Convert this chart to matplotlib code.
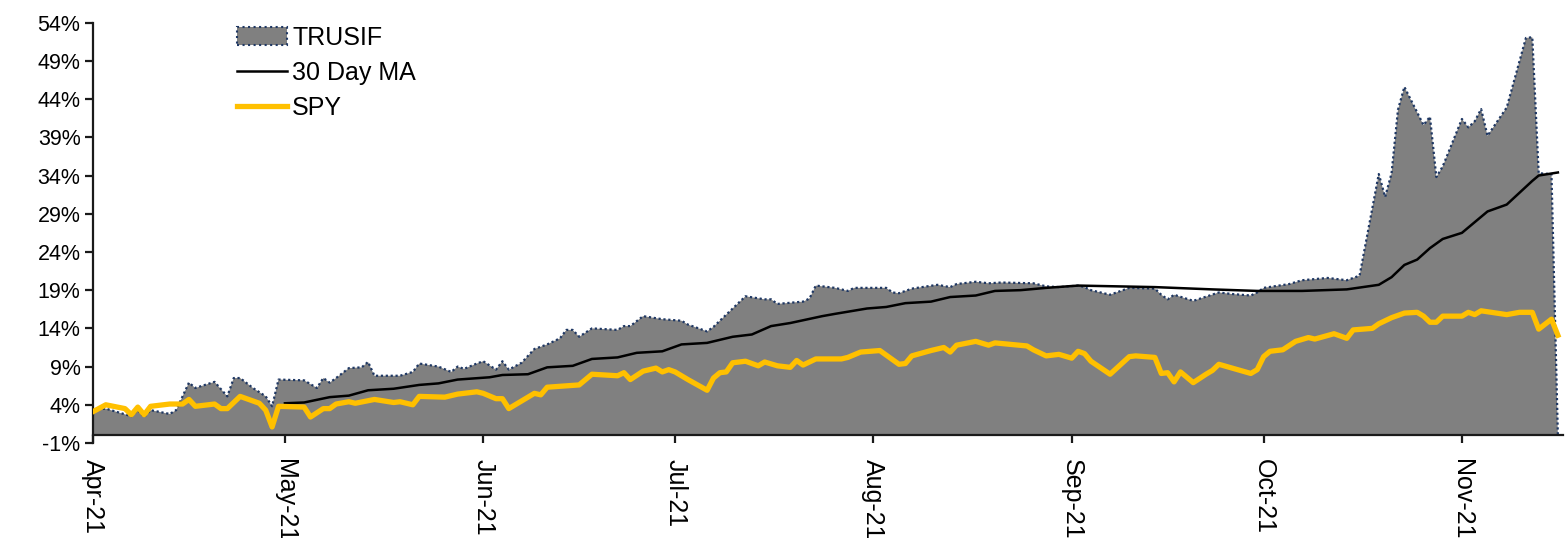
import matplotlib
matplotlib.use("Agg")
import matplotlib.pyplot as plt
import matplotlib.dates as mdates
from matplotlib.patches import Patch
from matplotlib.lines import Line2D
import pandas as pd
import numpy as np

plt.rcParams['font.family'] = ['Liberation Sans', 'DejaVu Sans']

# ---- data (dates as MM-DD in 2021, values in %) ----
trusif_dates = ["04-01","04-03","04-05","04-07","04-08","04-09","04-10","04-13","04-14","04-16",
                "04-17","04-20","04-22","04-23","04-24","04-26","04-28","04-29","04-30","05-04",
                "05-06","05-07","05-08","05-09","05-11","05-13","05-14","05-15","05-19","05-21",
                "05-22","05-25","05-27","05-28","05-29","05-31","06-01","06-03","06-04","06-05",
                "06-07","06-09","06-11","06-13","06-14","06-15","06-16","06-18","06-22","06-23",
                "06-24","06-26","06-29","07-02","07-03","07-06","07-07","07-10","07-12","07-15",
                "07-16","07-17","07-21","07-22","07-23","07-26","07-28","07-29","08-03","08-04",
                "08-05","08-07","08-11","08-13","08-14","08-17","08-19","08-21","08-26","08-28",
                "08-30","09-02","09-03","09-04","09-07","09-10","09-14","09-15","09-16","09-17",
                "09-20","09-24","09-26","09-29","09-30","10-01","10-05","10-07","10-11","10-14",
                "10-16","10-19","10-20","10-21","10-22","10-23","10-26","10-27","10-28","10-29",
                "11-01","11-02","11-03","11-04","11-05","11-08","11-11","11-12","11-13","11-15",
                "11-16"]
trusif_values = [3.3,3.5,3.0,2.5,3.3,2.4,3.3,2.8,3.3,6.9,
                 6.2,7.0,5.1,7.5,7.5,6.2,5.1,3.8,7.3,7.2,
                 6.2,7.5,6.9,7.5,8.8,8.9,9.6,7.8,7.8,8.3,
                 9.4,9.0,8.3,9.0,8.7,9.4,9.7,8.6,9.7,8.6,
                 9.5,11.3,11.9,12.7,13.8,13.8,12.9,14.0,13.8,14.3,
                 14.3,15.6,15.2,15.0,14.5,13.6,14.2,16.6,18.2,17.8,
                 17.8,17.2,17.5,17.9,19.6,19.3,18.9,19.3,19.3,18.7,
                 18.6,19.2,19.7,19.4,19.8,20.1,19.9,20.0,19.9,19.5,
                 19.4,19.6,19.4,19.0,18.4,19.3,19.2,18.4,17.8,18.4,
                 17.6,18.7,18.5,18.3,18.7,19.3,19.8,20.3,20.6,20.3,
                 20.9,34.2,31.2,34.3,42.6,45.6,40.6,41.7,33.8,35.2,
                 41.4,40.3,41.1,42.7,39.2,42.9,52.0,52.1,34.3,34.2,
                 0.0]

ma_dates = ["05-01","05-04","05-08","05-11","05-14","05-18","05-22","05-25","05-28","06-02",
            "06-04","06-08","06-11","06-15","06-18","06-22","06-25","06-29","07-02","07-06",
            "07-10","07-13","07-16","07-19","07-24","07-26","07-31","08-03","08-06","08-10",
            "08-13","08-17","08-20","08-24","08-28","09-02","09-14","09-23","09-30","10-07",
            "10-14","10-19","10-21","10-23","10-25","10-27","10-29","11-01","11-05","11-08",
            "11-12","11-13","11-16"]
ma_values = [4.2,4.3,5.0,5.2,5.9,6.1,6.6,6.8,7.3,7.6,
             7.9,8.0,8.9,9.1,10.0,10.2,10.8,11.0,11.9,12.1,
             12.9,13.2,14.3,14.7,15.6,15.9,16.6,16.8,17.3,17.5,
             18.1,18.3,18.9,19.0,19.3,19.6,19.4,19.1,18.9,18.9,
             19.1,19.7,20.7,22.3,23.0,24.5,25.7,26.5,29.3,30.2,
             33.3,34.0,34.4]

spy_dates = ["04-01","04-03","04-06","04-07","04-08","04-09","04-10","04-13","04-15","04-16",
             "04-17","04-20","04-21","04-22","04-24","04-27","04-28","04-29","04-30","05-04",
             "05-05","05-07","05-08","05-09","05-11","05-12","05-15","05-18","05-19","05-21",
             "05-22","05-26","05-28","05-31","06-01","06-03","06-04","06-05","06-09","06-10",
             "06-11","06-16","06-18","06-22","06-23","06-24","06-26","06-28","06-29","06-30",
             "07-01","07-03","07-06","07-07","07-08","07-09","07-10","07-12","07-14","07-15",
             "07-17","07-19","07-20","07-21","07-23","07-27","07-28","07-30","08-02","08-03",
             "08-05","08-06","08-07","08-10","08-12","08-13","08-14","08-17","08-19","08-20",
             "08-25","08-26","08-28","08-30","09-01","09-02","09-03","09-04","09-07","09-10",
             "09-11","09-14","09-15","09-16","09-17","09-18","09-20","09-22","09-23","09-24",
             "09-29","09-30","10-01","10-02","10-04","10-06","10-08","10-09","10-12","10-14",
             "10-15","10-18","10-19","10-21","10-23","10-25","10-26","10-27","10-28","10-29",
             "11-01","11-02","11-03","11-04","11-08","11-10","11-12","11-13","11-15","11-16"]
spy_values = [3.1,4.0,3.5,2.7,3.7,2.7,3.8,4.1,4.1,4.7,
              3.8,4.1,3.5,3.5,5.1,4.2,3.3,1.1,3.8,3.7,
              2.4,3.5,3.5,4.1,4.4,4.2,4.7,4.3,4.4,4.0,
              5.1,5.0,5.4,5.7,5.5,4.8,4.8,3.5,5.5,5.3,
              6.3,6.6,8.0,7.8,8.2,7.3,8.4,8.8,8.3,8.6,
              8.3,7.3,5.9,7.5,8.2,8.3,9.5,9.7,9.1,9.6,
              9.1,8.9,9.8,9.2,10.0,10.0,10.2,10.9,11.1,10.5,
              9.3,9.4,10.4,11.1,11.5,10.9,11.8,12.3,11.8,12.1,
              11.7,11.2,10.4,10.6,10.1,11.0,10.7,9.7,8.0,10.3,
              10.4,10.2,8.1,8.2,7.0,8.3,6.9,8.0,8.5,9.3,
              8.1,8.6,10.3,11.0,11.2,12.3,12.8,12.6,13.3,12.7,
              13.8,14.0,14.6,15.4,16.0,16.1,15.6,14.8,14.8,15.6,
              15.6,16.1,15.8,16.3,15.8,16.1,16.1,13.9,15.2,13.1]

y_ticks = list(range(-1, 55, 5))
month_ticks = ["04-01","05-01","06-01","07-01","08-01","09-01","10-01","11-01"]

def to_dt(lst):
    return pd.to_datetime(["2021-" + s for s in lst])

td = to_dt(trusif_dates)
md = to_dt(ma_dates)
sd = to_dt(spy_dates)

fig = plt.figure(figsize=(15.67, 5.38), dpi=100)
ax = fig.add_axes([0.05935, 0.17658, 0.93810, 0.78123])

navy = "#1F3864"
ax.fill_between(td, 0, trusif_values, facecolor="#808080", edgecolor="none", zorder=1)
ax.plot(td, trusif_values, color=navy, linestyle=(0, (1, 1.2)), linewidth=1.6, zorder=2)
ax.plot(md, ma_values, color="#000000", linewidth=1.8, zorder=3)
ax.plot(sd, spy_values, color="#FFC000", linewidth=3.8, zorder=4, solid_joinstyle="round")

ax.set_ylim(-1, 54)
ax.set_xlim(pd.Timestamp("2021-04-01"), pd.Timestamp("2021-04-01") + pd.Timedelta(days=229.8))
ax.set_yticks(y_ticks)
ax.set_yticklabels([f"{v}%" for v in y_ticks])
ax.set_xticks(to_dt(month_ticks))
ax.xaxis.set_major_formatter(mdates.DateFormatter("%b-%y"))

for s in ["top", "right"]:
    ax.spines[s].set_visible(False)
ax.spines["bottom"].set_position(("data", 0))
ax.spines["bottom"].set_zorder(5)
for s in ["left", "bottom"]:
    ax.spines[s].set_linewidth(1.6)
    ax.spines[s].set_color("#1a1a1a")

ax.tick_params(axis="y", direction="out", length=6, width=1.6, color="#1a1a1a",
               labelsize=15.5, pad=3)
ax.tick_params(axis="x", direction="out", length=6, width=1.6, color="#1a1a1a",
               labelsize=18, pad=11)
for lbl in ax.get_xticklabels():
    lbl.set_rotation(-90)
    lbl.set_va("top")
    lbl.set_ha("center")

handles = [Patch(facecolor="#808080", edgecolor=navy, linestyle=":", linewidth=1.5),
           Line2D([], [], color="#000000", linewidth=1.8),
           Line2D([], [], color="#FFC000", linewidth=3.8)]
ax.legend(handles, ["TRUSIF", "30 Day MA", "SPY"], loc="upper left",
          bbox_to_anchor=(0.098, 0.993), frameon=False, fontsize=18,
          handlelength=2.0, handletextpad=0.2, labelspacing=0.45, borderpad=0,
          borderaxespad=0)

fig.savefig("out.png", dpi=100)
